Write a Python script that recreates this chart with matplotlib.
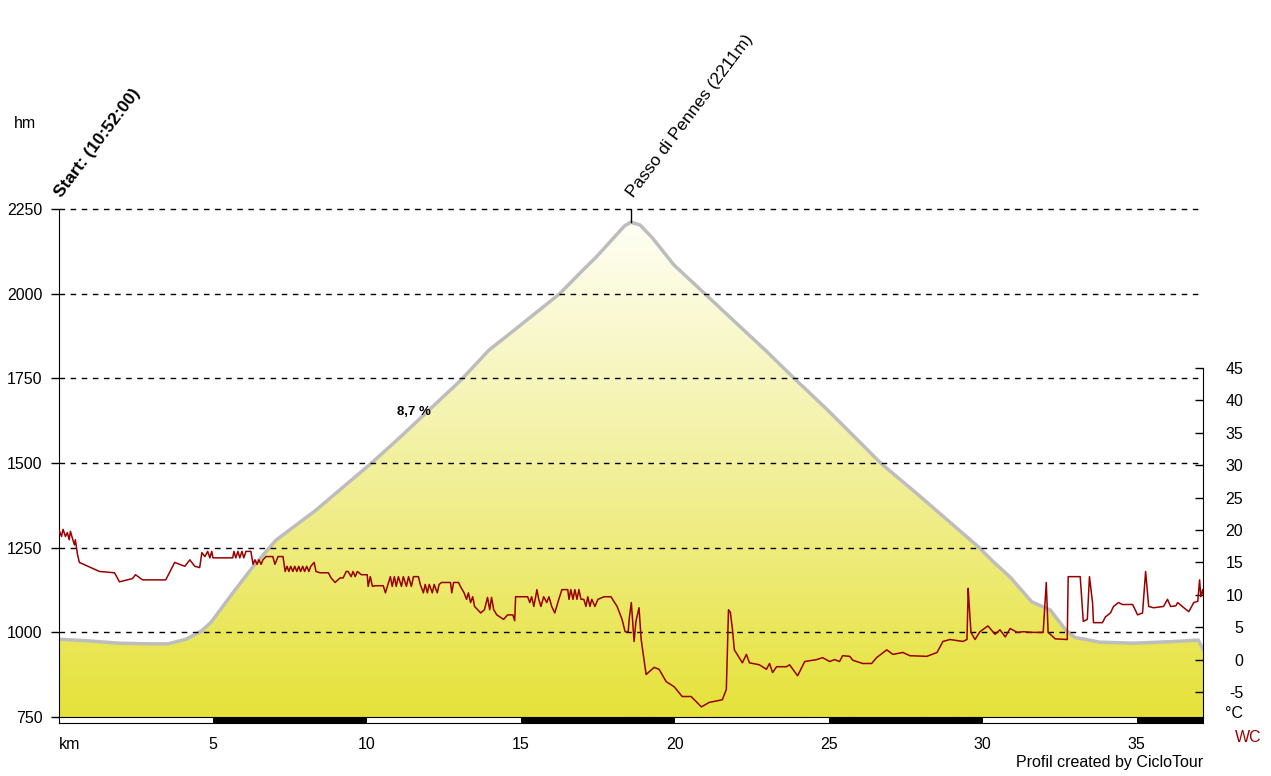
import matplotlib.pyplot as plt
import numpy as np
from matplotlib.colors import LinearSegmentedColormap
from matplotlib.patches import Polygon

plt.rcParams['font.family'] = ['Liberation Sans', 'DejaVu Sans']
plt.rcParams['axes.unicode_minus'] = False

# elevation profile (km, m)
km = [0, 1, 2, 3, 3.6, 4.2, 4.7, 5.0, 5.7, 6.35, 7.1, 8.4, 10.2, 11.1, 13.1,
      14.0, 15.0, 16.3, 17.0, 17.5, 18.0, 18.4, 18.6, 18.9, 19.3, 20.0, 21.0,
      22.0, 23.0, 23.9, 25.0, 26.7, 28.0, 29.9, 30.3, 30.9, 31.6, 32.2, 32.7,
      33.0, 33.8, 34.9, 36.0, 37.0, 37.15]
elev = [980, 975, 968, 966, 966, 980, 1005, 1030, 1116, 1193, 1272, 1361, 1500,
        1574, 1745, 1833, 1905, 2000, 2065, 2110, 2160, 2200, 2211, 2203, 2165,
        2085, 2000, 1915, 1830, 1750, 1655, 1500, 1400, 1250, 1213, 1163, 1090,
        1066, 1007, 985, 971, 968, 972, 977, 950]

# temperature (km, deg C)
temp_km = [
    0.0, 0.05, 0.08, 0.15, 0.2, 0.28, 0.34, 0.4, 0.44, 0.5, 0.57, 0.6, 0.67, 0.73,
    1.38, 1.87, 2.03, 2.45, 2.55, 2.78, 3.53, 3.82, 3.98, 4.15, 4.31, 4.47, 4.63,
    4.7, 4.8, 4.89, 4.96, 5.02, 5.06, 5.7, 5.74, 5.8, 5.87, 5.93, 6.0, 6.06, 6.13, 6.29,
    6.36, 6.42, 6.49, 6.55, 6.62, 6.68, 6.78, 7.0, 7.07, 7.17, 7.33, 7.4, 7.46, 7.52,
    7.58, 7.65, 7.71, 7.78, 7.84, 7.9, 7.97, 8.03, 8.1, 8.17, 8.23, 8.34, 8.4, 8.53,
    8.8, 8.89, 9.02, 9.18, 9.28, 9.38,
    9.44, 9.54, 9.6, 9.67, 9.74, 9.87, 10.06, 10.09, 10.16, 10.23,
    10.32, 10.58, 10.65, 10.81, 10.87, 10.94, 11.0, 11.07, 11.17, 11.23,
    11.33, 11.4, 11.49, 11.56, 11.72, 11.78, 11.88, 11.94, 12.01, 12.07,
    12.17, 12.23, 12.33, 12.39, 12.47, 12.76, 12.8, 12.86, 13.02, 13.08,
    13.2, 13.28, 13.34, 13.41, 13.48, 13.54, 13.74, 13.86, 13.96, 14.03,
    14.09, 14.16, 14.26, 14.48, 14.61, 14.78, 14.84, 14.87, 15.26, 15.33,
    15.39, 15.46, 15.52, 15.56, 15.62, 15.69, 15.78, 15.88, 15.95, 16.04,
    16.14, 16.27, 16.37, 16.56, 16.6, 16.66, 16.73, 16.79, 16.86, 16.92,
    16.99, 17.08, 17.15, 17.21, 17.28, 17.34, 17.44, 17.54, 17.74, 17.96,
    18.16, 18.32, 18.42, 18.52, 18.55, 18.62, 18.71, 18.77, 18.87, 18.94, 19.1,
    19.36, 19.52, 19.75, 20.01, 20.27, 20.56, 20.89, 21.15, 21.57, 21.7,
    21.77, 21.83, 21.9, 21.96, 22.22, 22.35, 22.45, 22.77, 23.0, 23.1,
    23.2, 23.33, 23.65, 23.75, 24.01, 24.24, 24.63, 24.82, 25.05, 25.21,
    25.37, 25.47, 25.7, 25.8, 26.12, 26.41, 26.57, 26.9, 27.1, 27.42,
    27.65, 28.2, 28.53, 28.72, 28.95, 29.37, 29.5, 29.54, 29.57, 29.63,
    29.76, 29.92, 30.18, 30.41, 30.57, 30.74, 30.9, 31.13, 31.32, 31.62,
    31.97, 32.07, 32.13, 32.36, 32.75, 32.78, 33.17, 33.27, 33.4, 33.47,
    33.57, 33.6, 33.89, 33.99, 34.15, 34.25, 34.41, 34.54, 34.87, 35.03,
    35.19, 35.29, 35.39, 35.55, 35.87, 36.0, 36.1, 36.27, 36.33, 36.53,
    36.69, 36.85, 36.98, 37.04, 37.08, 37.14, 37.17]
temp_c = [
    20.4, 19.3, 19.9, 19.0, 20.1, 19.0, 19.6, 18.5, 19.8, 18.8, 17.7, 18.5, 16.2, 15.0,
    13.6, 13.4, 12.0, 12.5, 13.1, 12.3, 12.3, 15.0, 14.7, 14.4, 15.4, 14.4, 14.2,
    16.5, 15.9, 16.7, 15.7, 16.7, 15.7, 15.7, 16.7, 15.7, 16.7, 15.7, 16.7, 15.7, 16.7, 16.7,
    14.7, 15.4, 14.7, 15.4, 14.7, 15.4, 15.9, 15.9, 14.7, 15.9, 15.9, 13.6, 14.4, 13.6,
    14.4, 13.6, 14.4, 13.6, 14.4, 13.6, 14.4, 13.6, 14.4, 13.6, 14.4, 15.0, 13.6, 13.4,
    13.4, 12.6, 11.9, 12.6, 12.6, 13.6,
    13.6, 12.8, 13.6, 12.8, 13.6, 13.1, 13.1, 11.3, 12.8, 11.3,
    11.4, 11.4, 10.3, 12.8, 11.3, 12.8, 11.3, 12.8, 11.3, 12.8,
    11.3, 12.8, 11.3, 12.8, 12.8, 11.6, 10.3, 11.6, 10.3, 11.6,
    10.3, 11.6, 10.3, 11.6, 11.9, 11.9, 10.3, 11.9, 11.9, 11.3,
    10.3, 9.3, 10.3, 8.8, 9.7, 8.2, 7.2, 7.7, 9.6, 7.7,
    9.6, 7.7, 6.9, 6.2, 6.9, 6.9, 6.0, 9.7, 9.7, 8.8,
    9.7, 8.2, 9.7, 10.8, 9.3, 8.2, 9.7, 8.8, 9.7, 8.2,
    7.2, 9.3, 10.8, 10.8, 9.3, 10.8, 9.3, 10.8, 9.3, 10.8,
    9.3, 9.3, 8.2, 9.7, 8.2, 9.3, 8.2, 9.3, 9.7, 9.7,
    8.2, 6.2, 4.3, 4.3, 6.2, 8.8, 2.8, 5.9, 8.0, 3.1, -2.3,
    -1.2, -1.5, -3.4, -4.2, -5.7, -5.7, -7.3, -6.6, -6.2, -4.6,
    7.7, 7.3, 4.6, 1.5, -0.5, 0.8, -0.5, -0.8, -1.5, -0.6,
    -2.0, -1.1, -1.1, -0.8, -2.5, -0.3, 0.0, 0.3, -0.3, 0.0,
    -0.3, 0.6, 0.5, -0.1, -0.6, -0.6, 0.3, 1.5, 0.8, 1.1,
    0.6, 0.5, 1.1, 2.8, 3.1, 2.8, 3.1, 11.0, 8.5, 4.2,
    3.1, 4.3, 5.2, 3.9, 4.6, 3.5, 4.8, 4.2, 4.3, 4.2,
    4.2, 11.9, 4.2, 3.2, 3.1, 12.8, 12.8, 5.9, 6.2, 12.8,
    8.8, 5.7, 5.7, 6.6, 7.2, 8.2, 8.8, 8.5, 8.5, 6.9,
    7.2, 13.6, 8.2, 8.0, 8.2, 9.3, 8.2, 8.3, 8.8, 8.0,
    7.4, 8.8, 9.0, 12.3, 9.7, 10.8, 9.9]

elev_ticks = [750, 1000, 1250, 1500, 1750, 2000, 2250]
temp_ticks = [-5, 0, 5, 10, 15, 20, 25, 30, 35, 40, 45]
km_ticks = [0, 5, 10, 15, 20, 25, 30, 35]
km_labels = ['km', '5', '10', '15', '20', '25', '30', '35']
bar_edges = [0, 5, 10, 15, 20, 25, 30, 35, 37.15]

W, H = 1271, 776
XMIN, XMAX = 0.07, 37.15
fig = plt.figure(figsize=(W / 100, H / 100), dpi=100)
ax = fig.add_axes([59 / W, 1 - 717 / H, (1203 - 59) / W, (717 - 209) / H])
ax.set_xlim(XMIN, XMAX)
ax.set_ylim(750, 2250)

# yellow gradient under the profile
cmap = LinearSegmentedColormap.from_list('hill', ['#e6e23a', '#f2f09c', '#fffff6'])
grad = np.linspace(0, 1, 256).reshape(-1, 1)
im = ax.imshow(grad, aspect='auto', cmap=cmap, origin='lower',
               extent=[0, XMAX, 750, 2220], zorder=1)
verts = [(km[0], 750)] + list(zip(km, elev)) + [(km[-1], 750)]
patch = Polygon(verts, closed=True, facecolor='none', edgecolor='none')
ax.add_patch(patch)
im.set_clip_path(patch)
ax.plot(km, elev, color='#bdbdbd', lw=2.5, zorder=3)

for y in elev_ticks[1:]:
    ax.axhline(y, color='black', lw=1, ls=(0, (4, 4)), zorder=4, clip_on=False)

for s in ['top', 'right', 'bottom']:
    ax.spines[s].set_visible(False)
ax.spines['left'].set_zorder(5)
ax.set_xticks([])
ax.set_yticks(elev_ticks)
ax.tick_params(axis='y', direction='out', length=6, width=1, labelsize=11.5, pad=6)

# peak marker and labels
ax.plot([18.6, 18.6], [2211, 2250], color='black', lw=1, zorder=5)
ax.annotate('Start: (10:52:00)', xy=(XMIN, 2250), xytext=(3, 11),
            textcoords='offset pixels', rotation=53, rotation_mode='anchor',
            ha='left', va='baseline', fontsize=12.5, fontweight='bold',
            annotation_clip=False)
ax.annotate('Passo di Pennes (2211m)', xy=(18.6, 2250), xytext=(3, 11),
            textcoords='offset pixels', rotation=53, rotation_mode='anchor',
            ha='left', va='baseline', fontsize=12.5, annotation_clip=False)
ax.text(11.58, 1650, '8,7 %', ha='center', va='center', fontsize=9.5,
        fontweight='bold', zorder=6)

# temperature axis
ax2 = ax.twinx()
ax2.set_ylim(-8.86, 69.54)
for s in ['top', 'left', 'bottom']:
    ax2.spines[s].set_visible(False)
ax2.spines['right'].set_bounds(-8.86, 45)
ax2.set_yticks(temp_ticks)
ax2.tick_params(axis='y', direction='in', length=6, width=1, labelsize=11.5, pad=29)
plt.setp(ax2.get_yticklabels(), ha='right')
ax2.plot(temp_km, temp_c, color='#990000', lw=1.1)

# km bar
axb = fig.add_axes([59 / W, 1 - 723 / H, (1203 - 59) / W, 6 / H])
axb.set_xlim(XMIN, XMAX)
axb.set_ylim(0, 1)
for i in range(len(bar_edges) - 1):
    axb.axvspan(bar_edges[i], bar_edges[i + 1], color='white' if i % 2 == 0 else 'black', lw=0)
for s in axb.spines.values():
    s.set_linewidth(0.8)
axb.set_yticks([])
axb.set_xticks(km_ticks, km_labels)
axb.tick_params(axis='x', length=0, pad=10, labelsize=11.5)
axb.get_xticklabels()[0].set_ha('left')

fig.text(25 / W, 1 - 124 / H, 'hm', ha='center', va='center', fontsize=11.5)
fig.text(1243 / W, 1 - 713 / H, '°C', ha='right', va='center', fontsize=11.5)
fig.text(1262 / W, 1 - 738 / H, 'WC', ha='right', va='center', fontsize=11.5, color='#990000')
fig.text(1203 / W, 1 - 763 / H, 'Profil created by CicloTour', ha='right', va='center', fontsize=11.5)

fig.savefig('out.png', dpi=100)
